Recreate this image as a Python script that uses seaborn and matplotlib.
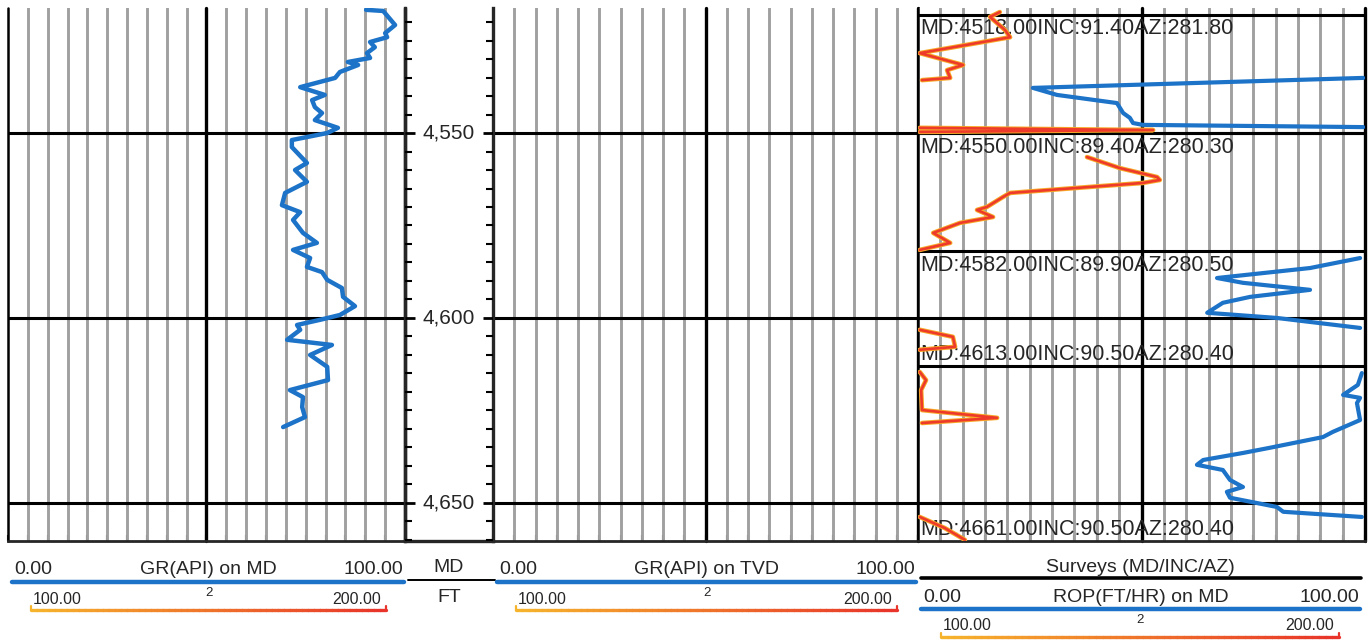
import numpy as np
import pandas as pd
import matplotlib
matplotlib.use("Agg")
import matplotlib.pyplot as plt
from matplotlib.collections import LineCollection
from matplotlib.colors import to_rgb
import seaborn as sns

sns.set_style("white")
plt.rcParams["font.family"] = ["Liberation Sans", "DejaVu Sans"]

# GR (API) on MD, track 1
gr_md = [4516.7, 4517.0, 4520.8, 4523.0, 4524.1, 4525.4, 4526.8, 4528.4, 4529.7, 4530.8,
         4531.6, 4533.5, 4535.1, 4537.6, 4539.7, 4541.1, 4543.0, 4544.6, 4546.5, 4548.6,
         4550.0, 4551.9, 4553.8, 4558.1, 4560.0, 4563.2, 4566.2, 4569.5, 4571.4, 4573.5,
         4577.0, 4579.7, 4581.6, 4583.8, 4586.2, 4587.6, 4589.7, 4591.9, 4594.3, 4596.8,
         4599.2, 4600.5, 4601.9, 4603.2, 4605.9, 4607.3, 4610.0, 4613.2, 4616.8, 4619.5,
         4621.4, 4624.1, 4626.8, 4629.5]
gr_api = [90.2, 94.5, 97.5, 95.0, 95.5, 91.2, 92.4, 90.4, 91.2, 85.6,
          88.2, 83.6, 82.4, 73.6, 79.8, 76.6, 77.3, 79.1, 77.3, 83.1,
          80.4, 71.5, 71.5, 75.3, 72.3, 75.3, 69.8, 69.0, 73.6, 71.8,
          74.3, 77.8, 71.8, 76.1, 75.3, 79.1, 80.4, 84.1, 84.4, 87.4,
          83.6, 78.6, 72.8, 73.6, 70.3, 81.6, 76.1, 80.4, 80.6, 71.0,
          74.3, 74.1, 74.8, 69.3]

# ROP (FT/HR) on MD, track 3 (nan = off scale)
nan = np.nan
rop_md = [4535.1, 4537.8, 4539.7, 4541.9, 4544.6, 4545.9, 4547.3, 4547.8, 4548.4, nan,
          4583.8, 4586.5, 4589.2, 4590.5, 4592.4, 4594.3, 4595.9, 4598.6, 4600.0, 4602.7, nan,
          4614.9, 4618.1, 4620.8, 4621.6, 4623.0, 4627.6, 4630.8, 4632.2, 4635.1, 4636.5,
          4638.4, 4639.7, 4641.1, 4643.8, 4645.7, 4647.0, 4648.6, 4651.1, 4652.4, 4653.8]
rop_val = [99.6, 25.7, 31.1, 44.5, 45.9, 47.4, 48.1, 50.3, 99.6, nan,
           98.9, 87.7, 66.9, 72.7, 87.7, 74.3, 68.2, 64.7, 80.3, 98.9, nan,
           99.3, 98.4, 95.1, 98.9, 98.2, 98.9, 92.8, 90.6, 78.7, 72.7,
           63.8, 62.4, 68.2, 69.8, 72.7, 69.1, 69.8, 80.3, 81.7, 99.3]

# second curve (scale 100-200), track 3
c2_md = [4517.3, 4518.6, 4522.2, 4524.1, 4528.4, 4531.6, 4533.0, 4535.1, 4535.7, nan,
         4548.6, 4549.2, 4549.7, nan,
         4556.5, 4559.5, 4561.9, 4562.7, 4563.5, 4566.2, 4567.3, 4570.0, 4570.8, 4572.7,
         4574.3, 4577.0, 4579.7, 4581.6, nan,
         4603.2, 4605.1, 4607.8, 4608.6, nan,
         4614.6, 4616.8, 4619.5, 4624.9, 4627.0, 4628.4, nan,
         4653.8, 4656.8, 4660.0]
c2_val = [118.3, 116.1, 119.5, 120.6, 100.4, 110.1, 106.5, 107.2, 100.9, nan,
          100.4, 152.6, 100.4, nan,
          137.8, 145.2, 153.5, 154.1, 150.3, 120.6, 119.0, 115.4, 113.2, 116.8,
          109.4, 103.4, 107.2, 100.4, nan,
          100.4, 107.8, 108.3, 100.4, nan,
          100.4, 101.8, 100.7, 100.9, 117.7, 100.9, nan,
          100.4, 106.0, 110.5]

# surveys
survey_md = [4518, 4550, 4582, 4613, 4661]
survey_inc = [91.40, 89.40, 89.90, 90.50, 90.50]
survey_az = [281.80, 280.30, 280.50, 280.40, 280.40]
survey_side = ["below", "below", "below", "above", "above"]

depth_labels = [4550, 4600, 4650]

# ---- layout ----
W, H = 1372, 641
fig = plt.figure(figsize=(W / 100, H / 100), dpi=100)

TOP, BOT = 4516.2, 4660.3
BLUE = "#1c73c8"
RED = "#ee3a2a"
GOLD = "#f7a928"
GRID = "#a0a0a0"


def rect(x0, x1, y0=8, y1=541):
    return [x0 / W, 1 - y1 / H, (x1 - x0) / W, (y1 - y0) / H]


def to_df(md, val):
    df = pd.DataFrame({"md": md, "val": val})
    df["seg"] = df["val"].isna().cumsum()
    return df.dropna()


def make_track(r):
    ax = fig.add_axes(r)
    for s in ["top", "left", "right"]:
        ax.spines[s].set_visible(False)
    ax.spines["bottom"].set_linewidth(2)
    for v in np.arange(5, 100, 5):
        if v != 50:
            ax.axvline(v, color=GRID, lw=2.1, zorder=1)
    for v, lw in [(0, 1.8), (50, 2.4), (100, 2.4)]:
        ax.axvline(v, color="black", lw=lw, zorder=2, clip_on=False)
    for d in depth_labels:
        ax.axhline(d, color="black", lw=2.2, zorder=2)
    ax.set_xticks(np.arange(0, 101, 5))
    ax.tick_params(axis="x", direction="in", length=4, width=1.5,
                   bottom=True, labelbottom=False)
    ax.set_yticks([])
    return ax


def finish(ax, lo=0, hi=100):
    ax.set_xlim(lo, hi)
    ax.set_ylim(BOT, TOP)
    ax.set_xlabel("")
    ax.set_ylabel("")


# track 1: GR on MD
ax1 = make_track(rect(8, 405))
sns.lineplot(data=to_df(gr_md, gr_api), x="val", y="md", units="seg", estimator=None,
             sort=False, orient="y", color=BLUE, lw=3.2, ax=ax1, legend=False, zorder=3)
finish(ax1)

# track 2: GR on TVD (no data shown)
ax2 = make_track(rect(493, 918))
finish(ax2)

# track 3: surveys + ROP
ax3 = make_track(rect(918, 1365))
c2 = to_df(c2_md, c2_val)
ax3b = ax3.twiny()
ax3b.axis("off")
sns.lineplot(data=c2, x="val", y="md", units="seg", estimator=None, sort=False,
             orient="y", color=GOLD, lw=3.3, ax=ax3b, legend=False)
sns.lineplot(data=c2, x="val", y="md", units="seg", estimator=None, sort=False,
             orient="y", color=RED, lw=1.9, ax=ax3b, legend=False)
finish(ax3b, 100, 200)
sns.lineplot(data=to_df(rop_md, rop_val), x="val", y="md", units="seg", estimator=None,
             sort=False, orient="y", color=BLUE, lw=3.0, ax=ax3b, legend=False,
             transform=ax3.transData)
for md, inc, az, side in zip(survey_md, survey_inc, survey_az, survey_side):
    ax3.axhline(md, color="black", lw=2.2, zorder=2)
    y = min(md, BOT - 0.1)
    ax3.text(0.4, y + (1.0 if side == "below" else -0.2),
             f"MD:{md:.2f}INC:{inc:.2f}AZ:{az:.2f}",
             ha="left", va="top" if side == "below" else "bottom",
             fontsize=15.5, zorder=5)
finish(ax3)

# depth track, added last and on top
axd = fig.add_axes(rect(405, 493), zorder=5)
axd.patch.set_alpha(0)
axd.spines["top"].set_visible(False)
for s in ["left", "right", "bottom"]:
    axd.spines[s].set_linewidth(2.4)
axd.set_xticks([])
axd.set_yticks([])
# 5 ft ticks on both edges, longer every 50 ft
for md in np.arange(4520, BOT, 5):
    major = md % 50 == 0
    ln = 0.11 if major else 0.075
    tw = 2.0 if major else 1.5
    axd.plot([0, ln], [md, md], color="black", lw=tw, solid_capstyle="butt", zorder=6)
    axd.plot([1 - ln, 1], [md, md], color="black", lw=tw, solid_capstyle="butt", zorder=6)
for d in depth_labels:
    axd.text(0.5, d, f"{d:,}", ha="center", va="center", fontsize=15)
axd.set_xlim(0, 1)
axd.set_ylim(BOT, TOP)

# ---- header/legend strip along the bottom ----
axl = fig.add_axes([0, 0, 1, 1], zorder=-1)
axl.set_xlim(0, W)
axl.set_ylim(H, 0)
axl.axis("off")


def grad_line(x0, x1, y, c0="#f6b42c", c1="#e8342a", lw=2.4):
    xs = np.linspace(x0, x1, 60)
    segs = [[(xs[i], y), (xs[i + 1], y)] for i in range(len(xs) - 1)]
    a, b = np.array(to_rgb(c0)), np.array(to_rgb(c1))
    cols = [a + (b - a) * t for t in np.linspace(0, 1, len(segs))]
    axl.add_collection(LineCollection(segs, colors=cols, linewidths=lw, capstyle="round"))
    for xe, ce in [(x0, cols[0]), (x1, cols[-1])]:
        axl.plot([xe, xe], [y - 4, y], color=ce, lw=1.6)


def curve_header(x0, x1, y, name, lo, hi):
    axl.text(x0 + 2, y, lo, ha="left", va="center", fontsize=14)
    axl.text((x0 + x1) / 2, y, name, ha="center", va="center", fontsize=14)
    axl.text(x1 - 1, y, hi, ha="right", va="center", fontsize=14)
    axl.plot([x0, x1], [y + 12, y + 12], color=BLUE, lw=3.2, solid_capstyle="round")


def small_header(x0, x1, y):
    axl.text(x0 + 2, y, "100.00", ha="left", va="center", fontsize=11.5)
    axl.text((x0 + x1) / 2, y - 6, "2", ha="center", va="center", fontsize=9.5)
    axl.text(x1 - 5, y, "200.00", ha="right", va="center", fontsize=11.5)
    grad_line(x0, x1, y + 11)


curve_header(12, 404, 570, "GR(API) on MD", "0.00", "100.00")
small_header(31, 386, 599)
axl.text(449, 568, "MD", ha="center", va="center", fontsize=14)
axl.plot([408, 495], [580, 580], color="black", lw=1.4)
axl.text(449, 598, "FT", ha="center", va="center", fontsize=14)
curve_header(497, 916, 570, "GR(API) on TVD", "0.00", "100.00")
small_header(516, 897, 599)

axl.text(1140, 568, "Surveys (MD/INC/AZ)", ha="center", va="center", fontsize=14)
axl.plot([921, 1361], [578, 578], color="black", lw=2.6, solid_capstyle="round")
curve_header(921, 1360, 597, "ROP(FT/HR) on MD", "0.00", "100.00")
small_header(941, 1339, 626)

fig.savefig("out.png", dpi=100, facecolor="white")
